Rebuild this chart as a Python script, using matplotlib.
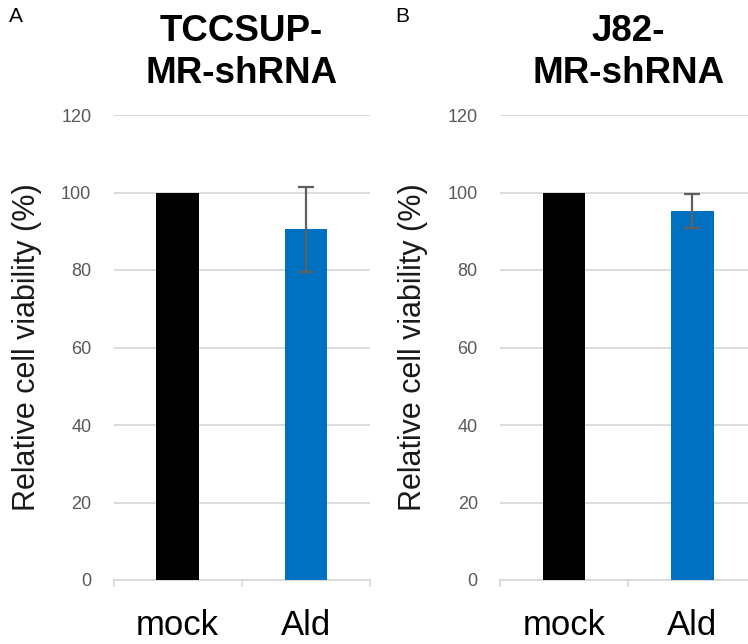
import matplotlib
matplotlib.use("Agg")
import matplotlib.pyplot as plt
from matplotlib.ticker import FixedLocator

plt.rcParams['font.family'] = ['Liberation Sans', 'DejaVu Sans']

groups = ["mock", "Ald"]
tccsup_means = [100, 90.5]
tccsup_err = [0, 11]
j82_means = [100, 95.3]
j82_err = [0, 4.4]
yticks = [0, 20, 40, 60, 80, 100, 120]

bar_colors = ["#000000", "#0070C0"]
grid_col = "#D9D9D9"
tick_col = "#595959"

fig = plt.figure(figsize=(7.48, 6.44), dpi=100)


def panel(rect, means, errs, title, letter, letter_x):
    ax = fig.add_axes(rect)
    x = range(len(groups))
    ax.bar(x, means, width=0.33, color=bar_colors, zorder=3)
    # error bars only where there is spread
    for xi, m, e in zip(x, means, errs):
        if e > 0:
            ax.errorbar(xi, m, yerr=e, color="#5f5f5f", elinewidth=1.6,
                        capsize=6, capthick=1.6, zorder=4)
    ax.set_xlim(-0.5, 1.5)
    ax.set_ylim(0, 120)
    ax.set_yticks(yticks)
    ax.yaxis.grid(True, color=grid_col, linewidth=1.3, zorder=0)
    ax.tick_params(axis="y", length=0, pad=16, labelsize=13, labelcolor=tick_col)
    for s in ["left", "right", "top"]:
        ax.spines[s].set_visible(False)
    ax.spines["bottom"].set_color(grid_col)
    ax.spines["bottom"].set_linewidth(1.3)
    ax.set_xticks(list(x))
    ax.set_xticklabels(groups, fontsize=25)
    ax.tick_params(axis="x", which="major", length=0, pad=21)
    ax.xaxis.set_minor_locator(FixedLocator([-0.5, 0.5, 1.5]))
    ax.tick_params(axis="x", which="minor", length=5, width=1.3, color=grid_col)
    ax.set_ylabel("Relative cell viability (%)", fontsize=22, color="#1a1a1a",
                  labelpad=14)
    ax.set_title(title, fontsize=26.5, fontweight="bold", pad=23, linespacing=1.25)
    fig.text(letter_x, 1 - 17 / 644, letter, fontsize=15, ha="center", va="center")
    return ax


panel([113.5 / 748, 1 - 580 / 644, 256.5 / 748, 465 / 644],
      tccsup_means, tccsup_err, "TCCSUP-\nMR-shRNA", "A", 16 / 748)
panel([500 / 748, 1 - 580 / 644, 256.5 / 748, 465 / 644],
      j82_means, j82_err, "J82-\nMR-shRNA", "B", 402 / 748)

fig.savefig("out.png", dpi=100)
